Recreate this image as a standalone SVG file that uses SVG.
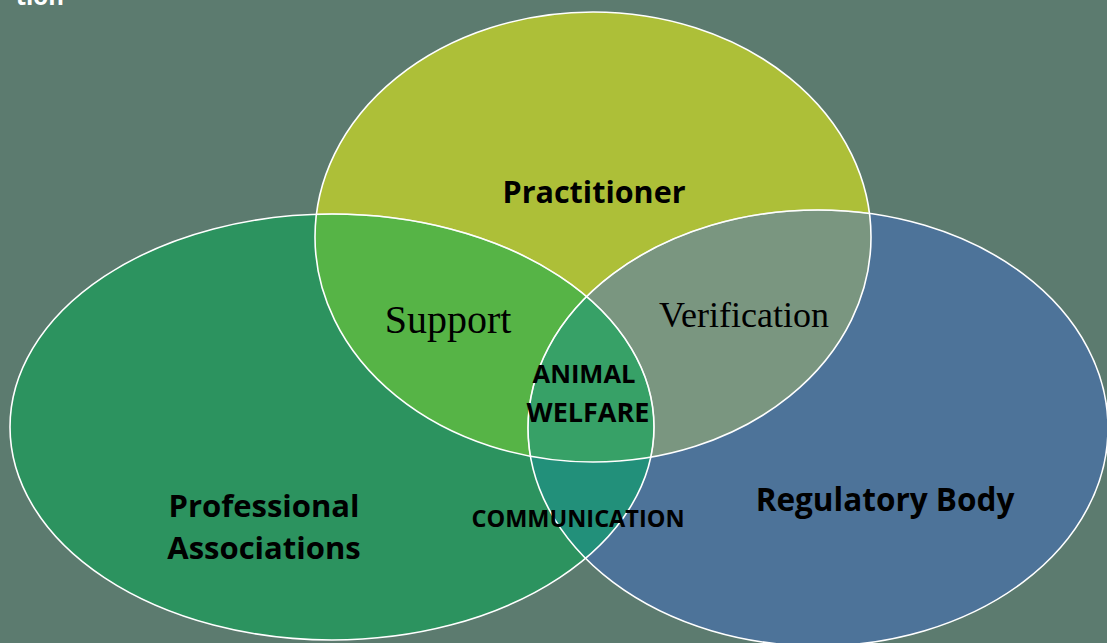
<svg xmlns="http://www.w3.org/2000/svg" width="1107" height="643" viewBox="0 0 1107 643">
<defs>
<style>
.lbl{font-family:"Open Sans","Noto Sans","Liberation Sans",sans-serif;font-weight:bold;fill:#000;text-anchor:middle}
.ser{font-family:"Liberation Serif","Times New Roman",serif;fill:#000;text-anchor:middle}
.edge{fill:none;stroke:#fff;stroke-width:1.6}
.edge2{fill:none;stroke:#fff;stroke-opacity:0.55;stroke-width:1.4}
</style>
<ellipse id="eA" cx="593" cy="237" rx="278" ry="225"/>
<ellipse id="eB" cx="332" cy="427" rx="322" ry="213"/>
<ellipse id="eC" cx="818" cy="428" rx="290" ry="218"/>
<clipPath id="cA"><use href="#eA"/></clipPath>
<clipPath id="cB"><use href="#eB"/></clipPath>
<clipPath id="cC"><use href="#eC"/></clipPath>
</defs>
<rect width="1107" height="643" fill="#5C7B6F"/>
<text x="64" y="5" text-anchor="end" style="font-family:'Open Sans','Liberation Sans',sans-serif;font-weight:bold;font-size:24px;fill:#fff">tion</text>
<g id="practitioner">
<use href="#eA" fill="#ADBF38"/>
</g>
<g id="professional-associations">
<use href="#eB" fill="#2C935F"/>
</g>
<g id="regulatory-body">
<use href="#eC" fill="#4D7399"/>
</g>
<g id="overlaps">
<g clip-path="url(#cB)"><use href="#eA" fill="#56B446"/></g>
<g clip-path="url(#cC)"><use href="#eA" fill="#7A9680"/></g>
<g clip-path="url(#cC)"><use href="#eB" fill="#22907A"/></g>
<g clip-path="url(#cC)"><g clip-path="url(#cB)"><use href="#eA" fill="#37A167"/></g></g>
</g>
<g id="connectors">
<use href="#eB" class="edge"/>
<use href="#eC" class="edge"/>
<use href="#eA" class="edge"/>
<g clip-path="url(#cA)"><use href="#eB" class="edge2"/><use href="#eC" class="edge2"/></g>
</g>
<g id="labels">
<text class="lbl" x="594" y="203" font-size="30.5">Practitioner</text>
<text class="ser" x="448" y="333" font-size="40">Support</text>
<text class="ser" x="744" y="327" font-size="36">Verification</text>
<text class="lbl" x="584" y="383" font-size="25.5">ANIMAL</text>
<text class="lbl" x="588" y="422" font-size="27">WELFARE</text>
<text class="lbl" x="578" y="527" font-size="23.5">COMMUNICATION</text>
<text class="lbl" x="264" y="517" font-size="31">Professional</text>
<text class="lbl" x="264" y="559" font-size="31">Associations</text>
<text class="lbl" x="885" y="511" font-size="31.5">Regulatory Body</text>
</g>
</svg>
